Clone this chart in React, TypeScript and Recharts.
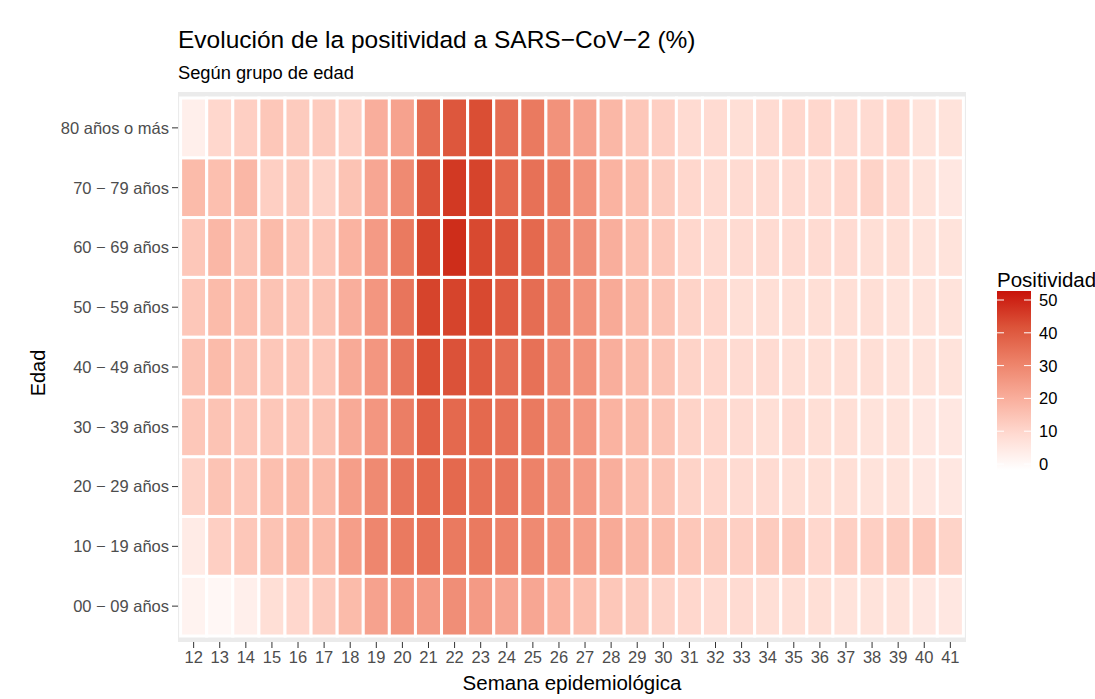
import { ScatterChart, Scatter, XAxis, YAxis, CartesianGrid } from "recharts";

// semanas epidemiológicas
const semanas = [12, 13, 14, 15, 16, 17, 18, 19, 20, 21, 22, 23, 24, 25, 26, 27, 28, 29, 30, 31, 32, 33, 34, 35, 36, 37, 38, 39, 40, 41];

const grupos = [
  "00 − 09 años",
  "10 − 19 años",
  "20 − 29 años",
  "30 − 39 años",
  "40 − 49 años",
  "50 − 59 años",
  "60 − 69 años",
  "70 − 79 años",
  "80 años o más",
];

// positividad (%) por semana, un array por grupo de edad
const edad00_09 = [3, 2, 4, 8, 10, 13, 17, 23, 26, 25, 28, 25, 22, 22, 19, 16, 14, 13, 11, 10, 9, 9, 8, 8, 8, 7, 7, 7, 6, 6];
const edad10_19 = [5, 12, 14, 15, 17, 17, 24, 30, 33, 35, 33, 33, 31, 29, 27, 24, 21, 18, 17, 14, 13, 12, 13, 13, 10, 12, 12, 13, 14, 11];
const edad20_29 = [11, 15, 14, 16, 17, 17, 24, 29, 34, 37, 37, 35, 34, 31, 28, 25, 20, 16, 15, 11, 10, 9, 9, 8, 8, 8, 7, 7, 6, 6];
const edad30_39 = [14, 15, 14, 14, 14, 15, 21, 26, 32, 39, 37, 37, 35, 33, 29, 26, 19, 17, 15, 11, 10, 9, 8, 9, 8, 8, 7, 7, 6, 6];
const edad40_49 = [15, 17, 15, 14, 14, 14, 21, 26, 34, 43, 42, 40, 36, 35, 30, 27, 20, 17, 15, 11, 10, 9, 9, 8, 8, 8, 8, 7, 7, 7];
const edad50_59 = [14, 17, 16, 15, 14, 15, 20, 26, 34, 45, 45, 44, 40, 36, 32, 27, 21, 17, 15, 11, 10, 8, 8, 8, 8, 8, 8, 7, 7, 7];
const edad60_69 = [14, 18, 15, 17, 14, 14, 19, 25, 33, 45, 49, 44, 41, 37, 32, 28, 20, 16, 14, 10, 9, 9, 9, 9, 9, 9, 8, 8, 7, 7];
const edad70_79 = [17, 16, 18, 12, 13, 11, 15, 22, 29, 42, 47, 45, 37, 35, 33, 27, 19, 16, 13, 10, 9, 9, 9, 9, 9, 10, 11, 9, 7, 6];
const edad80mas = [4, 10, 12, 14, 13, 13, 12, 20, 23, 36, 41, 43, 36, 33, 27, 23, 18, 14, 12, 9, 9, 8, 9, 10, 10, 9, 9, 10, 7, 7];

const filas = [edad00_09, edad10_19, edad20_29, edad30_39, edad40_49, edad50_59, edad60_69, edad70_79, edad80mas];

const legendBreaks = [0, 10, 20, 30, 40, 50];

// layout
const W = 1095;
const H = 699;
const PLOT_L = 178;
const PLOT_R = 966;
const PLOT_T = 92;
const PLOT_B = 642;
const cellW = (PLOT_R - PLOT_L) / 30.2;
const cellH = (PLOT_B - PLOT_T) / 9.2;

const FONT = "'Liberation Sans', Arial, sans-serif";

// color scale: white -> red, interpolated in CIELAB like ggplot
const LOW = [255, 255, 255];
const HIGH = [200, 19, 10];
const VMAX = 52;

function toLin(c: number) {
  c /= 255;
  return c <= 0.04045 ? c / 12.92 : Math.pow((c + 0.055) / 1.055, 2.4);
}
function fromLin(c: number) {
  const v = c <= 0.0031308 ? 12.92 * c : 1.055 * Math.pow(c, 1 / 2.4) - 0.055;
  return Math.max(0, Math.min(255, Math.round(v * 255)));
}
function rgb2lab(rgb: number[]) {
  const [r, g, b] = rgb.map(toLin);
  const x = (0.4124 * r + 0.3576 * g + 0.1805 * b) / 0.95047;
  const y = 0.2126 * r + 0.7152 * g + 0.0722 * b;
  const z = (0.0193 * r + 0.1192 * g + 0.9505 * b) / 1.08883;
  const f = (t: number) => (t > 0.008856 ? Math.cbrt(t) : 7.787 * t + 16 / 116);
  const fx = f(x), fy = f(y), fz = f(z);
  return [116 * fy - 16, 500 * (fx - fy), 200 * (fy - fz)];
}
function lab2rgb(lab: number[]) {
  const fy = (lab[0] + 16) / 116;
  const fx = fy + lab[1] / 500;
  const fz = fy - lab[2] / 200;
  const inv = (t: number) => (t ** 3 > 0.008856 ? t ** 3 : (t - 16 / 116) / 7.787);
  const x = inv(fx) * 0.95047, y = inv(fy), z = inv(fz) * 1.08883;
  const r = 3.2406 * x - 1.5372 * y - 0.4986 * z;
  const g = -0.9689 * x + 1.8758 * y + 0.0415 * z;
  const b = 0.0557 * x - 0.204 * y + 1.057 * z;
  return `rgb(${fromLin(r)},${fromLin(g)},${fromLin(b)})`;
}
const labLow = rgb2lab(LOW);
const labHigh = rgb2lab(HIGH);
function colorFor(v: number) {
  const t = Math.max(0, Math.min(1, v / VMAX));
  return lab2rgb(labLow.map((l, i) => l + (labHigh[i] - l) * t));
}

const data = filas.flatMap((fila, gi) =>
  fila.map((v, si) => ({ semana: semanas[si], grupo: gi, valor: v }))
);

const Tile = (props: any) => {
  const { cx, cy, payload } = props;
  if (cx == null || cy == null) return null;
  return (
    <rect
      x={cx - cellW / 2}
      y={cy - cellH / 2}
      width={cellW}
      height={cellH}
      fill={colorFor(payload.valor)}
      stroke="#ffffff"
      strokeWidth={3}
    />
  );
};

const barTop = 291;
const barBottom = 470;
const bar0 = 464;
const barPerUnit = (464 - 300) / 50;

export default function App() {
  return (
    <div style={{ position: "absolute", left: 0, top: 0, width: W, height: H, background: "#fff", fontFamily: FONT }}>
      <ScatterChart
        width={W}
        height={H}
        margin={{ top: PLOT_T, right: W - PLOT_R, bottom: 0, left: 0 }}
      >
        <CartesianGrid horizontal={false} vertical={false} fill="#ebebeb" />
        <XAxis
          type="number"
          dataKey="semana"
          domain={[11.4, 41.6]}
          ticks={semanas}
          interval={0}
          height={H - PLOT_B}
          axisLine={false}
          tickSize={6}
          tickMargin={3}
          tickLine={{ stroke: "#333333" }}
          tick={{ fill: "#4d4d4d", fontSize: 16.5, fontFamily: FONT }}
        />
        <YAxis
          type="number"
          dataKey="grupo"
          domain={[-0.6, 8.6]}
          ticks={[0, 1, 2, 3, 4, 5, 6, 7, 8]}
          interval={0}
          width={PLOT_L}
          axisLine={false}
          tickSize={6}
          tickMargin={3}
          tickLine={{ stroke: "#333333" }}
          tickFormatter={(v: number) => grupos[v]}
          tick={{ fill: "#4d4d4d", fontSize: 16.5, fontFamily: FONT }}
        />
        <Scatter data={data} shape={Tile} isAnimationActive={false} />
      </ScatterChart>

      <svg
        width={W}
        height={H}
        style={{ position: "absolute", left: 0, top: 0, pointerEvents: "none" }}
      >
        <defs>
          <linearGradient id="gradPos" x1="0" y1="1" x2="0" y2="0">
            {[0, 0.2, 0.4, 0.6, 0.8, 1].map((t) => {
              const v = ((barBottom - bar0) / barPerUnit) * -1 + t * ((barBottom - barTop) / barPerUnit);
              return <stop key={t} offset={t} stopColor={colorFor(v)} />;
            })}
          </linearGradient>
        </defs>
        <text x={178} y={48} fontSize={24.5} fill="#000" fontFamily={FONT}>
          Evolución de la positividad a SARS−CoV−2 (%)
        </text>
        <text x={178} y={79} fontSize={18.3} fill="#000" fontFamily={FONT}>
          Según grupo de edad
        </text>
        <text x={(PLOT_L + PLOT_R) / 2} y={690} fontSize={20.5} fill="#000" textAnchor="middle" fontFamily={FONT}>
          Semana epidemiológica
        </text>
        <text
          x={45}
          y={(PLOT_T + PLOT_B) / 2 + 6}
          fontSize={20}
          fill="#000"
          textAnchor="middle"
          fontFamily={FONT}
          transform={`rotate(-90 45 ${(PLOT_T + PLOT_B) / 2 + 6})`}
        >
          Edad
        </text>

        <text x={997} y={287} fontSize={20.5} fill="#000" fontFamily={FONT}>
          Positividad
        </text>
        <rect x={997} y={barTop} width={34} height={barBottom - barTop} fill="url(#gradPos)" />
        {legendBreaks.map((b) => {
          const y = bar0 - b * barPerUnit;
          return (
            <g key={b}>
              <line x1={997} x2={1004} y1={y} y2={y} stroke="#fff" strokeWidth={1} />
              <line x1={1024} x2={1031} y1={y} y2={y} stroke="#fff" strokeWidth={1} />
              <text x={1039} y={y + 6} fontSize={16.5} fill="#000" fontFamily={FONT}>
                {b}
              </text>
            </g>
          );
        })}
      </svg>
    </div>
  );
}
